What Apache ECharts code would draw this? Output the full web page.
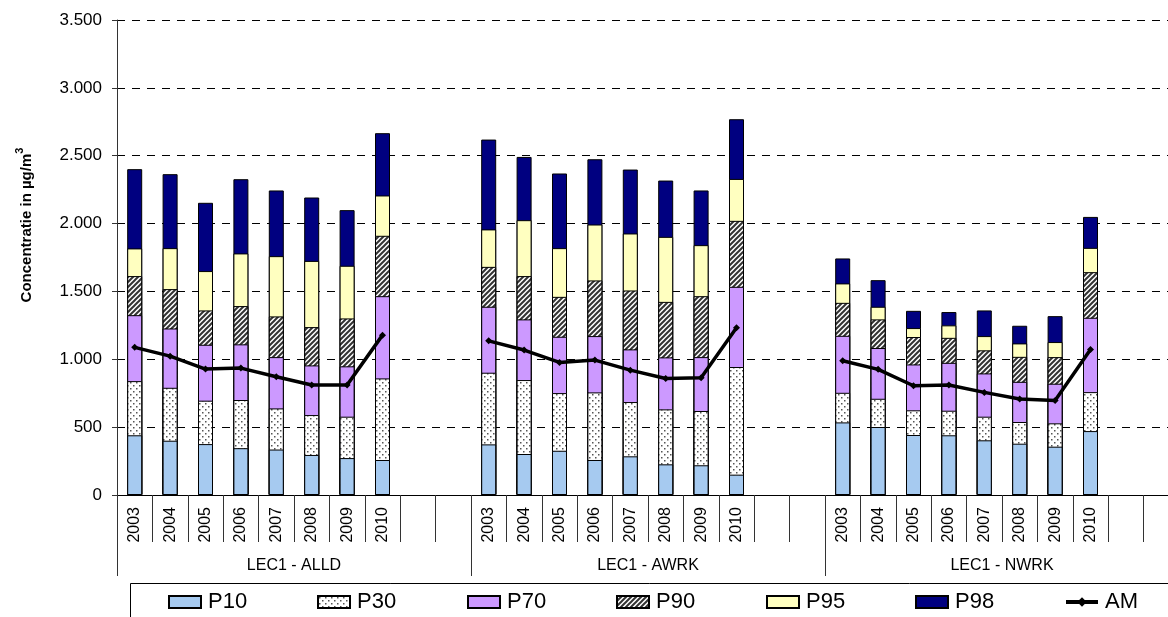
<!DOCTYPE html>
<html>
<head>
<meta charset="utf-8">
<script src="https://cdn.jsdelivr.net/npm/echarts@6/dist/echarts.min.js"></script>
<style>
html,body{margin:0;padding:0;background:#fff;}
#chart{width:1168px;height:617px;}
</style>
</head>
<body>
<div id="chart"></div>
<script>
// ---- data ----
const years = ['2003', '2004', '2005', '2006', '2007', '2008', '2009', '2010'];
const groups = ['LEC1 - ALLD', 'LEC1 - AWRK', 'LEC1 - NWRK'];
const emptySlotsPerGroup = 2;

// each array: ALLD (8 years), AWRK (8 years), NWRK (8 years)
const p10 = [440, 400, 375, 345, 335, 295, 272, 258,
             373, 302, 326, 258, 285, 226, 219, 150,
             535, 501, 442, 440, 403, 378, 356, 471];
const p30 = [839, 790, 695, 700, 638, 589, 577, 859,
             901, 847, 751, 756, 685, 631, 619, 943,
             753, 709, 624, 621, 577, 538, 528, 758];
const p70 = [1325, 1227, 1107, 1110, 1016, 955, 948, 1465,
             1387, 1294, 1166, 1171, 1073, 1014, 1016, 1534,
             1173, 1083, 962, 974, 896, 834, 820, 1306];
const p90 = [1613, 1517, 1360, 1392, 1316, 1237, 1301, 1910,
             1681, 1613, 1460, 1581, 1507, 1423, 1465, 2020,
             1416, 1294, 1164, 1158, 1066, 1018, 1016, 1642];
const p95 = [1817, 1819, 1650, 1780, 1760, 1725, 1689, 2207,
             1957, 2025, 1819, 1993, 1927, 1902, 1841, 2329,
             1559, 1387, 1230, 1250, 1171, 1117, 1127, 1821];
const p98 = [2401, 2364, 2153, 2327, 2244, 2192, 2099, 2666,
             2619, 2491, 2369, 2474, 2398, 2317, 2244, 2769,
             1743, 1583, 1357, 1348, 1360, 1247, 1318, 2049];
const am  = [1088, 1023, 928, 935, 871, 810, 810, 1178,
             1136, 1068, 977, 994, 920, 859, 864, 1232,
             989, 926, 805, 810, 756, 707, 697, 1073];

const yMin = 0, yMax = 3500, yInterval = 500;
const yTitleMain = 'Concentratie in µg/m';
const yTitleSup = '3';

// ---- build category slots (8 years + 2 empty per group) ----
const categories = [];
groups.forEach(() => {
  years.forEach(y => categories.push(y));
  for (let i = 0; i < emptySlotsPerGroup; i++) categories.push('');
});
function pad(arr) {
  const out = [];
  groups.forEach((g, gi) => {
    for (let i = 0; i < years.length; i++) out.push(arr[gi * years.length + i]);
    for (let i = 0; i < emptySlotsPerGroup; i++) out.push(null);
  });
  return out;
}

// ---- fill patterns ----
function dotPattern() {
  const c = document.createElement('canvas');
  c.width = 6; c.height = 6;
  const ctx = c.getContext('2d');
  ctx.fillStyle = '#ffffff'; ctx.fillRect(0, 0, 6, 6);
  ctx.fillStyle = '#555555';
  ctx.fillRect(1, 1, 1.5, 1.5);
  ctx.fillRect(4, 4, 1.5, 1.5);
  return { image: c, repeat: 'repeat' };
}
function hatchPattern() {
  const s = 5;
  const c = document.createElement('canvas');
  c.width = s; c.height = s;
  const ctx = c.getContext('2d');
  ctx.fillStyle = '#ffffff'; ctx.fillRect(0, 0, s, s);
  ctx.strokeStyle = '#333333'; ctx.lineWidth = 2;
  ctx.beginPath();
  ctx.moveTo(-1, s + 1); ctx.lineTo(s + 1, -1);
  ctx.stroke();
  ctx.beginPath();
  ctx.moveTo(-1, 1); ctx.lineTo(1, -1);
  ctx.moveTo(s - 1, s + 1); ctx.lineTo(s + 1, s - 1);
  ctx.stroke();
  return { image: c, repeat: 'repeat' };
}

const FONT = "'Liberation Sans', Arial, sans-serif";
const barStyle = (color) => ({ color: color, borderColor: '#000', borderWidth: 1 });
function barSeries(name, data, color) {
  return {
    name: name, type: 'bar', data: pad(data), barWidth: 15, barGap: '-100%',
    itemStyle: barStyle(color), emphasis: { disabled: true }, animation: false
  };
}

const legendNames = ['P10', 'P30', 'P70', 'P90', 'P95', 'P98', 'AM'];
const legendLeft = [168, 317, 467, 616, 766, 915, 1064];
const legends = legendNames.map((n, i) => ({
  data: [n === 'AM' ? { name: n } : { name: n, icon: 'rect' }],
  left: legendLeft[i], top: 591, padding: 0,
  itemWidth: 32, itemHeight: 12, itemGap: 0,
  selectedMode: false,
  lineStyle: n === 'AM' ? { width: 4, color: '#000' } : undefined,
  textStyle: { fontFamily: FONT, fontSize: 22, color: '#000', padding: [0, 0, 0, 2] }
}));

const chart = echarts.init(document.getElementById('chart'), null, { renderer: 'canvas' });
chart.setOption({
  backgroundColor: '#fff',
  animation: false,
  textStyle: { fontFamily: FONT },
  grid: { left: 117, top: 20, width: 1062, height: 475, containLabel: false, outerBoundsMode: 'none' },
  legend: legends,
  xAxis: [
    {
      type: 'category', data: categories, boundaryGap: true,
      axisLine: { show: true, lineStyle: { color: '#000', width: 1 } },
      axisTick: { show: true, interval: 0, length: 47, lineStyle: { color: '#333' } },
      axisLabel: { interval: 0, rotate: 90, margin: 12, fontSize: 16, color: '#000', fontFamily: FONT },
      splitLine: { show: false }
    },
    {
      type: 'category', data: groups, position: 'bottom', boundaryGap: true,
      axisLine: { show: false },
      axisTick: { show: true, interval: 0, length: 81, lineStyle: { color: '#333' } },
      axisLabel: { interval: 0, margin: 63, fontSize: 16, color: '#000', fontFamily: FONT },
      splitLine: { show: false }
    }
  ],
  yAxis: {
    type: 'value', min: yMin, max: yMax, interval: yInterval,
    axisLine: { show: true, lineStyle: { color: '#333', width: 1 } },
    axisTick: { show: true, length: 5, lineStyle: { color: '#333' } },
    axisLabel: {
      margin: 15, fontSize: 17, color: '#000', fontFamily: FONT,
      formatter: v => String(v).replace(/\B(?=(\d{3})+(?!\d))/g, '.')
    },
    splitLine: { show: true, lineStyle: { color: '#000', width: 1, type: [8, 7] } }
  },
  graphic: [
    {
      type: 'text', x: 24, y: 225, rotation: Math.PI / 2,
      style: {
        text: '{m|' + yTitleMain + '}{s|' + yTitleSup + '}',
        rich: {
          m: { fontFamily: FONT, fontSize: 15, fontWeight: 'bold', fill: '#000', verticalAlign: 'bottom' },
          s: { fontFamily: FONT, fontSize: 11, fontWeight: 'bold', fill: '#000', verticalAlign: 'top', padding: [0, 0, 9, 0] }
        },
        align: 'center', verticalAlign: 'middle'
      }
    },
    {
      type: 'rect', shape: { x: 130.5, y: 583.5, width: 1100, height: 100 },
      style: { fill: 'none', stroke: '#000', lineWidth: 1 }, z: -1
    }
  ],
  series: [
    barSeries('P98', p98, '#000080'),
    barSeries('P95', p95, '#ffffc0'),
    barSeries('P90', p90, hatchPattern()),
    barSeries('P70', p70, '#cc99ff'),
    barSeries('P30', p30, dotPattern()),
    barSeries('P10', p10, '#a6caf0'),
    {
      name: 'AM', type: 'line', data: pad(am), z: 5,
      connectNulls: false, symbol: 'diamond', symbolSize: 7, showSymbol: true,
      lineStyle: { color: '#000', width: 3.5 },
      itemStyle: { color: '#000' },
      emphasis: { disabled: true }, animation: false
    }
  ]
});
</script>
</body>
</html>
